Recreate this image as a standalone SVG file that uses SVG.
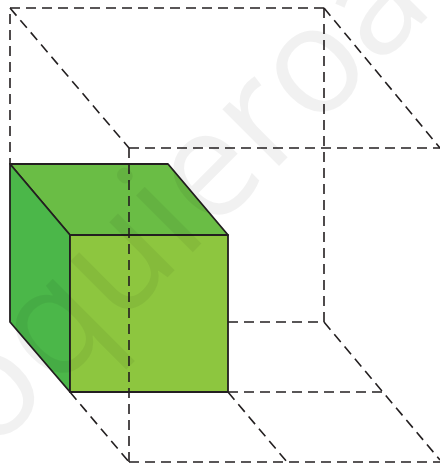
<svg xmlns="http://www.w3.org/2000/svg" width="440" height="465" viewBox="0 0 440 465">
<style>
.d{fill:none;stroke:#231f20;stroke-width:1.6;stroke-dasharray:10 6}
.e{stroke:#231f20;stroke-width:1.8;stroke-linejoin:round}
.w{font-family:"Open Sans","Liberation Sans",sans-serif;font-size:150px;fill:#000;fill-opacity:.055}
</style>
<rect width="440" height="465" fill="#fff"/>
<g id="connectors">
<path class="d" d="M324 8H10V164"/>
<path class="d" d="M10 8L129 148"/>
<path class="d" d="M324 8L440 148"/>
<path class="d" d="M324 8V322"/>
<path class="d" d="M129 148H440"/>
<path class="d" d="M228 322H324"/>
<path class="d" d="M324 322L440 460"/>
<path class="d" d="M228 392H384"/>
<path class="d" d="M70 392L129 462"/>
<path class="d" d="M228 392L287 462"/>
<path class="d" d="M129 462H440"/>
</g>
<g id="cube">
<path id="top" class="e" fill="#6abd45" d="M10 164H168L228 235H70Z"/>
<path id="left" class="e" fill="#4bb749" d="M10 164L70 235V392L10 322Z"/>
<path id="front" class="e" fill="#8dc63f" d="M70 235H228V392H70Z"/>
</g>
<path class="d" d="M129 148V462"/>
<text class="w" transform="translate(-10 455) rotate(-45)">oquieroap</text>
</svg>
